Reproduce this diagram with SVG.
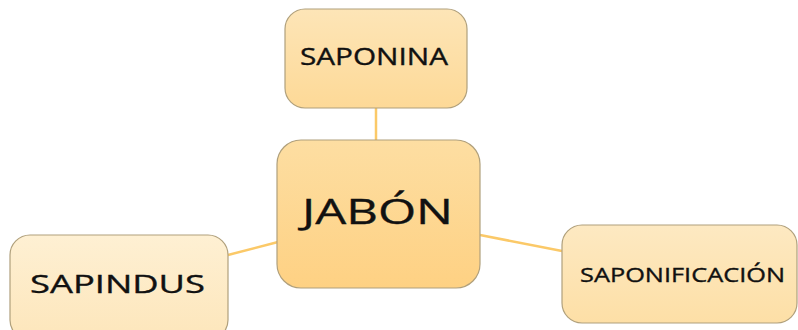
<svg xmlns="http://www.w3.org/2000/svg" width="798" height="330" viewBox="0 0 798 330">
  <style>
    .box { stroke: #b0a07c; stroke-width: 1.2; }
    .lbl { font-family: "Open Sans", "Liberation Sans", sans-serif; fill: #111; stroke: #111; stroke-width: 0.35; text-anchor: middle; }
    .link { stroke: #fbc968; stroke-width: 2.5; fill: none; }
  </style>
  <defs>
    <linearGradient id="gMain" x1="0" y1="0" x2="0" y2="1">
      <stop offset="0" stop-color="#fddea2"/>
      <stop offset="1" stop-color="#fed183"/>
    </linearGradient>
    <linearGradient id="gTop" x1="0" y1="0" x2="0" y2="1">
      <stop offset="0" stop-color="#fde5b7"/>
      <stop offset="1" stop-color="#fdd997"/>
    </linearGradient>
    <linearGradient id="gLeft" x1="0" y1="0" x2="0" y2="1">
      <stop offset="0" stop-color="#fef0d3"/>
      <stop offset="1" stop-color="#fde6bb"/>
    </linearGradient>
    <linearGradient id="gRight" x1="0" y1="0" x2="0" y2="1">
      <stop offset="0" stop-color="#fde9c2"/>
      <stop offset="1" stop-color="#fddfa6"/>
    </linearGradient>
  </defs>

  <g id="connectors">
    <line class="link" x1="376" y1="108" x2="376" y2="141"/>
    <line class="link" x1="278" y1="242" x2="228" y2="255"/>
    <line class="link" x1="480" y1="235" x2="562" y2="251"/>
  </g>

  <g id="saponina">
    <rect class="box" x="285" y="9" width="182" height="99" rx="20" fill="url(#gTop)"/>
    <text class="lbl" x="374" y="65" font-size="23" textLength="148" lengthAdjust="spacingAndGlyphs">SAPONINA</text>
  </g>

  <g id="jabon">
    <rect class="box" x="277" y="140" width="203" height="148" rx="24" fill="url(#gMain)"/>
    <text class="lbl" x="377.5" y="224" font-size="35" textLength="151" lengthAdjust="spacingAndGlyphs">JABÓN</text>
  </g>

  <g id="sapindus">
    <rect class="box" x="10" y="235" width="218" height="105" rx="20" fill="url(#gLeft)"/>
    <text class="lbl" x="117.5" y="293" font-size="25" textLength="175" lengthAdjust="spacingAndGlyphs">SAPINDUS</text>
  </g>

  <g id="saponificacion">
    <rect class="box" x="562" y="225" width="235" height="98" rx="20" fill="url(#gRight)"/>
    <text class="lbl" x="682.5" y="282" font-size="20" textLength="205" lengthAdjust="spacingAndGlyphs">SAPONIFICACIÓN</text>
  </g>
</svg>
